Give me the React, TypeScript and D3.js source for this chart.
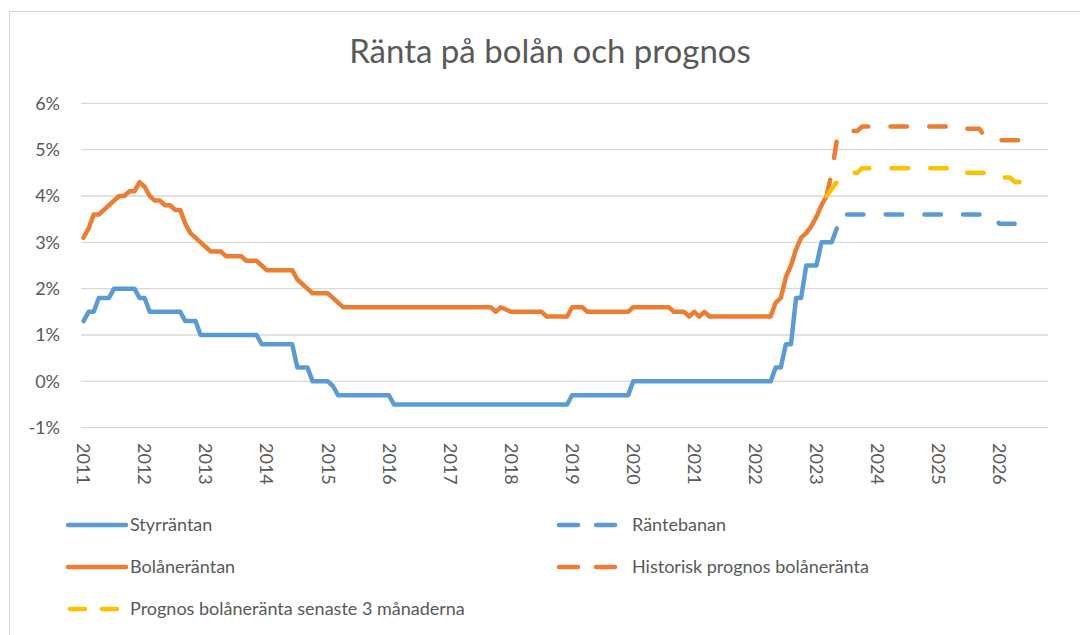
import React from 'react';
import * as d3 from 'd3';

const WIDTH = 1080;
const HEIGHT = 635;
const FONT = 'Lato, "Open Sans", sans-serif';
const TEXT = '#595959';
const GRID = '#D9D9D9';

const BLUE = '#5B9BD5';
const ORANGE = '#ED7D31';
const YELLOW = '#FFC000';

// one category per month, starting january 2011
const START_YEAR = 2011;
const MONTH_COUNT = 190;
const months = d3.range(MONTH_COUNT).map((i) => `${START_YEAR + Math.floor(i / 12)}-${String((i % 12) + 1).padStart(2, '0')}`);

const yearLabels = ['2011', '2012', '2013', '2014', '2015', '2016', '2017', '2018', '2019', '2020', '2021', '2022', '2023', '2024', '2025', '2026'];
const yTicks = [-1, 0, 1, 2, 3, 4, 5, 6];

// Styrräntan, from jan 2011 (percent)
const styrrantan = [
  1.3, 1.5, 1.5, 1.8, 1.8, 1.8, 2.0, 2.0, 2.0, 2.0, 2.0, 1.8,
  1.8, 1.5, 1.5, 1.5, 1.5, 1.5, 1.5, 1.5, 1.3, 1.3, 1.3, 1.0,
  1.0, 1.0, 1.0, 1.0, 1.0, 1.0, 1.0, 1.0, 1.0, 1.0, 1.0, 0.8,
  0.8, 0.8, 0.8, 0.8, 0.8, 0.8, 0.3, 0.3, 0.3, 0.0, 0.0, 0.0,
  0.0, -0.1, -0.3, -0.3, -0.3, -0.3, -0.3, -0.3, -0.3, -0.3, -0.3, -0.3,
  -0.3, -0.5, -0.5, -0.5, -0.5, -0.5, -0.5, -0.5, -0.5, -0.5, -0.5, -0.5,
  -0.5, -0.5, -0.5, -0.5, -0.5, -0.5, -0.5, -0.5, -0.5, -0.5, -0.5, -0.5,
  -0.5, -0.5, -0.5, -0.5, -0.5, -0.5, -0.5, -0.5, -0.5, -0.5, -0.5, -0.5,
  -0.3, -0.3, -0.3, -0.3, -0.3, -0.3, -0.3, -0.3, -0.3, -0.3, -0.3, -0.3,
  0.0, 0.0, 0.0, 0.0, 0.0, 0.0, 0.0, 0.0, 0.0, 0.0, 0.0, 0.0,
  0.0, 0.0, 0.0, 0.0, 0.0, 0.0, 0.0, 0.0, 0.0, 0.0, 0.0, 0.0,
  0.0, 0.0, 0.0, 0.0, 0.3, 0.3, 0.8, 0.8, 1.8, 1.8, 2.5, 2.5,
  2.5, 3.0, 3.0, 3.0, 3.3,
];

// Bolåneräntan, from jan 2011
const bolanerantan = [
  3.1, 3.3, 3.6, 3.6, 3.7, 3.8, 3.9, 4.0, 4.0, 4.1, 4.1, 4.3,
  4.2, 4.0, 3.9, 3.9, 3.8, 3.8, 3.7, 3.7, 3.4, 3.2, 3.1, 3.0,
  2.9, 2.8, 2.8, 2.8, 2.7, 2.7, 2.7, 2.7, 2.6, 2.6, 2.6, 2.5,
  2.4, 2.4, 2.4, 2.4, 2.4, 2.4, 2.2, 2.1, 2.0, 1.9, 1.9, 1.9,
  1.9, 1.8, 1.7, 1.6, 1.6, 1.6, 1.6, 1.6, 1.6, 1.6, 1.6, 1.6,
  1.6, 1.6, 1.6, 1.6, 1.6, 1.6, 1.6, 1.6, 1.6, 1.6, 1.6, 1.6,
  1.6, 1.6, 1.6, 1.6, 1.6, 1.6, 1.6, 1.6, 1.6, 1.5, 1.6, 1.55,
  1.5, 1.5, 1.5, 1.5, 1.5, 1.5, 1.5, 1.4, 1.4, 1.4, 1.4, 1.4,
  1.6, 1.6, 1.6, 1.5, 1.5, 1.5, 1.5, 1.5, 1.5, 1.5, 1.5, 1.5,
  1.6, 1.6, 1.6, 1.6, 1.6, 1.6, 1.6, 1.6, 1.5, 1.5, 1.5, 1.4,
  1.5, 1.4, 1.5, 1.4, 1.4, 1.4, 1.4, 1.4, 1.4, 1.4, 1.4, 1.4,
  1.4, 1.4, 1.4, 1.4, 1.7, 1.8, 2.25, 2.5, 2.85, 3.1, 3.2, 3.35,
  3.55, 3.8, 4.0,
];

// Räntebanan, from jul 2023
const RANTEBANAN_START = 150;
const rantebanan = [
  3.6, 3.6, 3.6, 3.6, 3.6, 3.6,
  3.6, 3.6, 3.6, 3.6, 3.6, 3.6, 3.6, 3.6, 3.6, 3.6, 3.6, 3.6,
  3.6, 3.6, 3.6, 3.6, 3.6, 3.6, 3.6, 3.6, 3.6, 3.6, 3.6, 3.5,
  3.4, 3.4, 3.4, 3.4, 3.4,
];

// Historisk prognos bolåneränta, from mar 2023
const HISTORISK_START = 146;
const historiskPrognos = [
  4.0, 4.5, 5.2, 5.35, 5.4, 5.4, 5.4, 5.5, 5.5, 5.5,
  5.5, 5.5, 5.5, 5.5, 5.5, 5.5, 5.5, 5.5, 5.5, 5.5, 5.5, 5.5,
  5.5, 5.5, 5.5, 5.5,
  5.45, 5.45, 5.45, 5.45, 5.45, 5.3, 5.25, 5.2, 5.2, 5.2, 5.2, 5.2,
  5.2,
];

// Prognos bolåneränta senaste 3 månaderna, from mar 2023
const PROGNOS_START = 146;
const prognos3man = [
  4.0, 4.15, 4.3, 4.4, 4.5, 4.5, 4.5, 4.6, 4.6, 4.6,
  4.6, 4.6, 4.6, 4.6, 4.6, 4.6, 4.6, 4.6, 4.6, 4.6, 4.6, 4.6,
  4.6, 4.6, 4.6, 4.6,
  4.5, 4.5, 4.5, 4.5, 4.5, 4.5, 4.45, 4.4, 4.4, 4.4, 4.4, 4.3,
  4.3,
];

const PLOT = { left: 81, right: 1048, top: 103.3, bottom: 427.7 };
const DASH = '16.5 22.2';
const LINE_W = 4.5;

type Pt = [number, number];
const toPoints = (start: number, values: number[]): Pt[] => values.map((v, k) => [start + k, v]);

const App = () => {
  const x = d3.scaleBand<string>().domain(months).range([PLOT.left, PLOT.right]);
  const xc = (i: number) => (x(months[i]) ?? 0) + x.bandwidth() / 2;
  const y = d3.scaleLinear().domain([-1, 6]).range([PLOT.bottom, PLOT.top]);

  const line = d3.line<Pt>().x((d) => xc(d[0])).y((d) => y(d[1]));

  const series = [
    { key: 'styr', points: toPoints(0, styrrantan), color: BLUE, dashed: false },
    { key: 'bolan', points: toPoints(0, bolanerantan), color: ORANGE, dashed: false },
    { key: 'hist', points: toPoints(HISTORISK_START, historiskPrognos), color: ORANGE, dashed: true },
    { key: 'prog', points: toPoints(PROGNOS_START, prognos3man), color: YELLOW, dashed: true },
    { key: 'bana', points: toPoints(RANTEBANAN_START, rantebanan), color: BLUE, dashed: true },
  ];

  // legend entries: sample from x0 to x1, label at tx
  const legend = [
    { x0: 68, x1: 126, tx: 130, y: 525, label: 'Styrräntan', color: BLUE, dash: undefined },
    { x0: 559, x1: 618, tx: 632, y: 525, label: 'Räntebanan', color: BLUE, dash: '19 18' },
    { x0: 68, x1: 126, tx: 130, y: 567, label: 'Bolåneräntan', color: ORANGE, dash: undefined },
    { x0: 559, x1: 618, tx: 632, y: 567, label: 'Historisk prognos bolåneränta', color: ORANGE, dash: '19 18' },
    { x0: 70, x1: 124, tx: 130, y: 609, label: 'Prognos bolåneränta senaste 3 månaderna', color: YELLOW, dash: '15 17' },
  ];

  return (
    <div style={{ position: 'absolute', left: 0, top: 0 }}>
      <svg width={WIDTH} height={HEIGHT} style={{ display: 'block', fontFamily: FONT }}>
        <rect x={0} y={0} width={WIDTH} height={HEIGHT} fill="#fff" />
        <rect x={9.5} y={11.5} width={WIDTH + 20} height={HEIGHT + 20} fill="#fff" stroke={GRID} strokeWidth={1} />

        <text x={550} y={63} textAnchor="middle" fontSize={33} fill={TEXT}>
          Ränta på bolån och prognos
        </text>

        {/* gridlines and y labels */}
        <g>
          {yTicks.map((t) => (
            <g key={t}>
              <line x1={PLOT.left} x2={PLOT.right} y1={y(t)} y2={y(t)} stroke={GRID} strokeWidth={1.3} />
              <text x={60} y={y(t)} dy="0.35em" textAnchor="end" fontSize={18} fill={TEXT}>
                {`${t}%`}
              </text>
            </g>
          ))}
        </g>

        {/* x labels, rotated */}
        <g>
          {yearLabels.map((label, k) => {
            const cx = xc(k * 12);
            return (
              <text key={label} transform={`translate(${cx},443) rotate(90)`} dy="0.35em" fontSize={18} fill={TEXT}>
                {label}
              </text>
            );
          })}
        </g>

        {/* series */}
        <g fill="none" strokeLinejoin="round" strokeLinecap="round">
          {series.map((s) => (
            <path
              key={s.key}
              d={line(s.points) ?? ''}
              stroke={s.color}
              strokeWidth={LINE_W}
              strokeDasharray={s.dashed ? DASH : undefined}
            />
          ))}
        </g>

        {/* legend */}
        <g>
          {legend.map((l) => (
            <g key={l.label}>
              <line x1={l.x0} x2={l.x1} y1={l.y} y2={l.y} stroke={l.color} strokeWidth={LINE_W} strokeLinecap="round" strokeDasharray={l.dash} />
              <text x={l.tx} y={l.y} dy="0.35em" fontSize={18} fill={TEXT}>
                {l.label}
              </text>
            </g>
          ))}
        </g>
      </svg>
    </div>
  );
};

export default App;
